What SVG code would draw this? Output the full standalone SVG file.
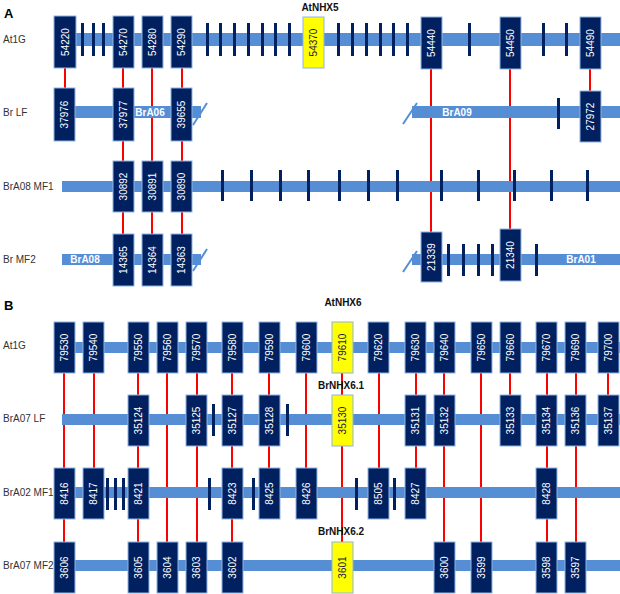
<svg xmlns="http://www.w3.org/2000/svg" width="620" height="594" viewBox="0 0 620 594">
<style>
text{font-family:"Liberation Sans",Arial,sans-serif}
.bar{fill:#558ed5}
.box{fill:#002060;stroke:#8eb4e3;stroke-width:1}
.ybox{fill:#ffff00;stroke:#8eb4e3;stroke-width:1}
.tk{fill:#002060}
.bt{fill:#fff;font-size:10px;text-anchor:middle;dominant-baseline:central}
.yt{fill:#1a1a40;font-size:10px;text-anchor:middle;dominant-baseline:central}
.rl{fill:#333;font-size:10px}
.pl{fill:#000;font-size:13px;font-weight:bold}
.gl{fill:#111;font-size:10px;font-weight:bold;text-anchor:middle}
.cl{fill:#fff;font-size:10px;font-weight:bold;text-anchor:middle;dominant-baseline:central}
.red{stroke:#ff0000;stroke-width:2;fill:none}
.sl{stroke:#558ed5;stroke-width:2}
</style>
<rect width="620" height="594" fill="#fff"/>

<!-- connectors -->
<g id="connectors" class="red">
<line x1="65" y1="67" x2="65" y2="88"/>
<line x1="123" y1="67" x2="123" y2="88"/>
<line x1="152" y1="67" x2="152" y2="161"/>
<line x1="182" y1="67" x2="182" y2="88"/>
<line x1="590" y1="68" x2="590" y2="91"/>
<line x1="431" y1="68" x2="431" y2="232"/>
<line x1="510" y1="68" x2="510" y2="229"/>
<line x1="123" y1="141" x2="123" y2="161"/>
<line x1="182" y1="141" x2="182" y2="161"/>
<line x1="123" y1="212" x2="123" y2="234"/>
<line x1="152" y1="212" x2="152" y2="234"/>
<line x1="182" y1="212" x2="182" y2="234"/>

<line x1="64" y1="373" x2="64" y2="468"/>
<line x1="64" y1="519" x2="64" y2="542"/>
<line x1="94" y1="373" x2="94" y2="468"/>
<line x1="138" y1="373" x2="138" y2="395"/>
<line x1="138" y1="446" x2="138" y2="468"/>
<line x1="138" y1="519" x2="138" y2="542"/>
<line x1="167" y1="373" x2="167" y2="542"/>
<line x1="197" y1="373" x2="197" y2="395"/>
<line x1="197" y1="446" x2="197" y2="542"/>
<line x1="232" y1="373" x2="232" y2="395"/>
<line x1="232" y1="446" x2="232" y2="468"/>
<line x1="232" y1="519" x2="232" y2="542"/>
<line x1="269" y1="373" x2="269" y2="395"/>
<line x1="269" y1="446" x2="269" y2="468"/>
<line x1="306" y1="373" x2="306" y2="468"/>
<line x1="342" y1="373" x2="342" y2="395"/>
<line x1="342" y1="446" x2="342" y2="542"/>
<line x1="379" y1="373" x2="379" y2="468"/>
<line x1="416" y1="373" x2="416" y2="395"/>
<line x1="416" y1="446" x2="416" y2="468"/>
<line x1="444" y1="373" x2="444" y2="395"/>
<line x1="444" y1="446" x2="444" y2="542"/>
<line x1="481" y1="373" x2="481" y2="542"/>
<line x1="510" y1="373" x2="510" y2="395"/>
<line x1="547" y1="373" x2="547" y2="395"/>
<line x1="547" y1="446" x2="547" y2="468"/>
<line x1="547" y1="519" x2="547" y2="542"/>
<line x1="576" y1="373" x2="576" y2="395"/>
<line x1="576" y1="446" x2="576" y2="542"/>
<line x1="608" y1="373" x2="608" y2="395"/>
</g>

<!-- Panel labels -->
<text class="pl" x="4" y="18">A</text>
<text class="pl" x="4" y="310">B</text>
<text class="gl" x="320" y="11">AtNHX5</text>
<text class="gl" x="343" y="306">AtNHX6</text>
<text class="gl" x="341" y="389">BrNHX6.1</text>
<text class="gl" x="341" y="535">BrNHX6.2</text>

<!-- Row labels -->
<text class="rl" x="3" y="43">At1G</text>
<text class="rl" x="3" y="116">Br LF</text>
<text class="rl" x="3" y="190">BrA08 MF1</text>
<text class="rl" x="3" y="263">Br MF2</text>
<text class="rl" x="3" y="349">At1G</text>
<text class="rl" x="3" y="422">BrA07 LF</text>
<text class="rl" x="3" y="496">BrA02 MF1</text>
<text class="rl" x="3" y="569">BrA07 MF2</text>

<!-- Panel A, At1G -->
<g id="A_At1G">
<rect class="bar" x="54" y="33" width="566" height="13"/>
<g class="tk">
<rect x="81" y="23" width="3" height="33"/><rect x="92" y="23" width="3" height="33"/><rect x="102" y="23" width="3" height="33"/>
<rect x="206" y="23" width="3" height="33"/><rect x="219" y="23" width="3" height="33"/><rect x="233" y="23" width="3" height="33"/><rect x="247" y="23" width="3" height="33"/><rect x="261" y="23" width="3" height="33"/><rect x="274" y="23" width="3" height="33"/><rect x="288" y="23" width="3" height="33"/>
<rect x="337" y="23" width="3" height="33"/><rect x="351" y="23" width="3" height="33"/><rect x="365" y="23" width="3" height="33"/><rect x="379" y="23" width="3" height="33"/><rect x="392" y="23" width="3" height="33"/><rect x="406" y="23" width="3" height="33"/>
<rect x="468" y="23" width="3" height="33"/><rect x="542" y="23" width="3" height="33"/><rect x="565" y="23" width="3" height="33"/>
</g>
</g>
<g id="n54220"><rect class="box" x="54" y="16" width="22" height="52"/><text class="bt" transform="translate(65,42) rotate(-90)">54220</text></g>
<g id="n54270"><rect class="box" x="113" y="16" width="21" height="52"/><text class="bt" transform="translate(123.5,42) rotate(-90)">54270</text></g>
<g id="n54280"><rect class="box" x="142" y="16" width="21" height="52"/><text class="bt" transform="translate(152.5,42) rotate(-90)">54280</text></g>
<g id="n54290"><rect class="box" x="171" y="16" width="21" height="52"/><text class="bt" transform="translate(181.5,42) rotate(-90)">54290</text></g>
<g id="n54370"><rect class="ybox" x="303" y="17" width="21" height="51"/><text class="yt" transform="translate(313.5,42.5) rotate(-90)">54370</text></g>
<g id="n54440"><rect class="box" x="421" y="17" width="21" height="52"/><text class="bt" transform="translate(431.5,43) rotate(-90)">54440</text></g>
<g id="n54450"><rect class="box" x="500" y="17" width="21" height="52"/><text class="bt" transform="translate(510.5,43) rotate(-90)">54450</text></g>
<g id="n54490"><rect class="box" x="580" y="17" width="21" height="52"/><text class="bt" transform="translate(590.5,43) rotate(-90)">54490</text></g>

<!-- Panel A, Br LF -->
<g id="A_BrLF">
<rect class="bar" x="54" y="106" width="147" height="12"/>
<line class="sl" x1="193" y1="125" x2="207" y2="103"/>
<text class="cl" x="150" y="112">BrA06</text>
<rect class="bar" x="412" y="106" width="208" height="12"/>
<line class="sl" x1="403" y1="124" x2="417" y2="103"/>
<text class="cl" x="457" y="112">BrA09</text>
<rect class="tk" x="557" y="98" width="3" height="31"/>
</g>
<g id="n37976"><rect class="box" x="54" y="88" width="21" height="53"/><text class="bt" transform="translate(64.5,114.5) rotate(-90)">37976</text></g>
<g id="n37977"><rect class="box" x="113" y="88" width="21" height="53"/><text class="bt" transform="translate(123.5,114.5) rotate(-90)">37977</text></g>
<g id="n39655"><rect class="box" x="171" y="88" width="21" height="53"/><text class="bt" transform="translate(181.5,114.5) rotate(-90)">39655</text></g>
<g id="n27972"><rect class="box" x="580" y="91" width="21" height="51"/><text class="bt" transform="translate(590.5,116.5) rotate(-90)">27972</text></g>

<!-- Panel A, BrA08 MF1 -->
<g id="A_MF1">
<rect class="bar" x="62" y="181" width="558" height="11"/>
<g class="tk">
<rect x="221" y="170" width="3" height="31"/><rect x="250" y="170" width="3" height="31"/><rect x="279" y="170" width="3" height="31"/><rect x="307" y="170" width="3" height="31"/><rect x="338" y="170" width="3" height="31"/><rect x="367" y="170" width="3" height="31"/><rect x="396" y="170" width="3" height="31"/><rect x="440" y="170" width="3" height="31"/><rect x="477" y="170" width="3" height="31"/><rect x="513" y="170" width="3" height="31"/><rect x="550" y="170" width="3" height="31"/><rect x="586" y="170" width="3" height="31"/>
</g>
</g>
<g id="n30892"><rect class="box" x="113" y="161" width="21" height="51"/><text class="bt" transform="translate(123.5,186.5) rotate(-90)">30892</text></g>
<g id="n30891"><rect class="box" x="142" y="161" width="21" height="51"/><text class="bt" transform="translate(152.5,186.5) rotate(-90)">30891</text></g>
<g id="n30890"><rect class="box" x="171" y="161" width="21" height="51"/><text class="bt" transform="translate(181.5,186.5) rotate(-90)">30890</text></g>

<!-- Panel A, Br MF2 -->
<g id="A_MF2">
<rect class="bar" x="62" y="254" width="139" height="11"/>
<line class="sl" x1="193" y1="271" x2="207" y2="249"/>
<text class="cl" x="85" y="259.5">BrA08</text>
<rect class="bar" x="412" y="254" width="208" height="11"/>
<line class="sl" x1="403" y1="272" x2="417" y2="251"/>
<text class="cl" x="581" y="259.5">BrA01</text>
<g class="tk">
<rect x="447" y="244" width="3" height="32"/><rect x="462" y="244" width="3" height="32"/><rect x="477" y="244" width="3" height="32"/><rect x="491" y="244" width="3" height="32"/><rect x="535" y="244" width="3" height="32"/>
</g>
</g>
<g id="n14365"><rect class="box" x="113" y="234" width="21" height="52"/><text class="bt" transform="translate(123.5,260) rotate(-90)">14365</text></g>
<g id="n14364"><rect class="box" x="142" y="234" width="21" height="52"/><text class="bt" transform="translate(152.5,260) rotate(-90)">14364</text></g>
<g id="n14363"><rect class="box" x="171" y="234" width="21" height="52"/><text class="bt" transform="translate(181.5,260) rotate(-90)">14363</text></g>
<g id="n21339"><rect class="box" x="421" y="232" width="21" height="50"/><text class="bt" transform="translate(431.5,257) rotate(-90)">21339</text></g>
<g id="n21340"><rect class="box" x="500" y="229" width="21" height="52"/><text class="bt" transform="translate(510.5,255) rotate(-90)">21340</text></g>

<!-- Panel B, At1G -->
<g id="B_At1G"><rect class="bar" x="62" y="342" width="558" height="11"/></g>
<g id="n79530"><rect class="box" x="54" y="322" width="21" height="51"/><text class="bt" transform="translate(64.5,347.5) rotate(-90)">79530</text></g>
<g id="n79540"><rect class="box" x="83" y="322" width="21" height="51"/><text class="bt" transform="translate(93.5,347.5) rotate(-90)">79540</text></g>
<g id="n79550"><rect class="box" x="128" y="322" width="21" height="51"/><text class="bt" transform="translate(138.5,347.5) rotate(-90)">79550</text></g>
<g id="n79560"><rect class="box" x="157" y="322" width="21" height="51"/><text class="bt" transform="translate(167.5,347.5) rotate(-90)">79560</text></g>
<g id="n79570"><rect class="box" x="186" y="322" width="21" height="51"/><text class="bt" transform="translate(196.5,347.5) rotate(-90)">79570</text></g>
<g id="n79580"><rect class="box" x="222" y="322" width="21" height="51"/><text class="bt" transform="translate(232.5,347.5) rotate(-90)">79580</text></g>
<g id="n79590"><rect class="box" x="259" y="322" width="21" height="51"/><text class="bt" transform="translate(269.5,347.5) rotate(-90)">79590</text></g>
<g id="n79600"><rect class="box" x="296" y="322" width="21" height="51"/><text class="bt" transform="translate(306.5,347.5) rotate(-90)">79600</text></g>
<g id="n79610"><rect class="ybox" x="332" y="322" width="21" height="51"/><text class="yt" transform="translate(342.5,347.5) rotate(-90)">79610</text></g>
<g id="n79620"><rect class="box" x="368" y="322" width="21" height="51"/><text class="bt" transform="translate(378.5,347.5) rotate(-90)">79620</text></g>
<g id="n79630"><rect class="box" x="405" y="322" width="21" height="51"/><text class="bt" transform="translate(415.5,347.5) rotate(-90)">79630</text></g>
<g id="n79640"><rect class="box" x="434" y="322" width="21" height="51"/><text class="bt" transform="translate(444.5,347.5) rotate(-90)">79640</text></g>
<g id="n79650"><rect class="box" x="471" y="322" width="21" height="51"/><text class="bt" transform="translate(481.5,347.5) rotate(-90)">79650</text></g>
<g id="n79660"><rect class="box" x="500" y="322" width="21" height="51"/><text class="bt" transform="translate(510.5,347.5) rotate(-90)">79660</text></g>
<g id="n79670"><rect class="box" x="536" y="322" width="21" height="51"/><text class="bt" transform="translate(546.5,347.5) rotate(-90)">79670</text></g>
<g id="n79690"><rect class="box" x="565" y="322" width="21" height="51"/><text class="bt" transform="translate(575.5,347.5) rotate(-90)">79690</text></g>
<g id="n79700"><rect class="box" x="598" y="322" width="21" height="51"/><text class="bt" transform="translate(608.5,347.5) rotate(-90)">79700</text></g>

<!-- Panel B, BrA07 LF -->
<g id="B_LF">
<rect class="bar" x="62" y="414" width="558" height="11"/>
<g class="tk"><rect x="212" y="404" width="3" height="32"/><rect x="286" y="404" width="3" height="32"/></g>
</g>
<g id="n35124"><rect class="box" x="128" y="395" width="21" height="51"/><text class="bt" transform="translate(138.5,420.5) rotate(-90)">35124</text></g>
<g id="n35125"><rect class="box" x="186" y="395" width="21" height="51"/><text class="bt" transform="translate(196.5,420.5) rotate(-90)">35125</text></g>
<g id="n35127"><rect class="box" x="222" y="395" width="21" height="51"/><text class="bt" transform="translate(232.5,420.5) rotate(-90)">35127</text></g>
<g id="n35128"><rect class="box" x="259" y="395" width="21" height="51"/><text class="bt" transform="translate(269.5,420.5) rotate(-90)">35128</text></g>
<g id="n35130"><rect class="ybox" x="332" y="395" width="21" height="51"/><text class="yt" transform="translate(342.5,420.5) rotate(-90)">35130</text></g>
<g id="n35131"><rect class="box" x="405" y="395" width="21" height="51"/><text class="bt" transform="translate(415.5,420.5) rotate(-90)">35131</text></g>
<g id="n35132"><rect class="box" x="434" y="395" width="21" height="51"/><text class="bt" transform="translate(444.5,420.5) rotate(-90)">35132</text></g>
<g id="n35133"><rect class="box" x="500" y="395" width="21" height="51"/><text class="bt" transform="translate(510.5,420.5) rotate(-90)">35133</text></g>
<g id="n35134"><rect class="box" x="536" y="395" width="21" height="51"/><text class="bt" transform="translate(546.5,420.5) rotate(-90)">35134</text></g>
<g id="n35136"><rect class="box" x="565" y="395" width="21" height="51"/><text class="bt" transform="translate(575.5,420.5) rotate(-90)">35136</text></g>
<g id="n35137"><rect class="box" x="598" y="395" width="21" height="51"/><text class="bt" transform="translate(608.5,420.5) rotate(-90)">35137</text></g>

<!-- Panel B, BrA02 MF1 -->
<g id="B_MF1">
<rect class="bar" x="62" y="487" width="558" height="11"/>
<g class="tk">
<rect x="106" y="478" width="3" height="32"/><rect x="114" y="478" width="3" height="32"/><rect x="122" y="478" width="3" height="32"/><rect x="208" y="478" width="3" height="32"/><rect x="252" y="478" width="3" height="32"/><rect x="355" y="478" width="3" height="32"/><rect x="393" y="478" width="3" height="32"/>
</g>
</g>
<g id="n8416"><rect class="box" x="54" y="468" width="21" height="51"/><text class="bt" transform="translate(64.5,493.5) rotate(-90)">8416</text></g>
<g id="n8417"><rect class="box" x="83" y="468" width="21" height="51"/><text class="bt" transform="translate(93.5,493.5) rotate(-90)">8417</text></g>
<g id="n8421"><rect class="box" x="128" y="468" width="21" height="51"/><text class="bt" transform="translate(138.5,493.5) rotate(-90)">8421</text></g>
<g id="n8423"><rect class="box" x="222" y="468" width="21" height="51"/><text class="bt" transform="translate(232.5,493.5) rotate(-90)">8423</text></g>
<g id="n8425"><rect class="box" x="259" y="468" width="21" height="51"/><text class="bt" transform="translate(269.5,493.5) rotate(-90)">8425</text></g>
<g id="n8426"><rect class="box" x="296" y="468" width="21" height="51"/><text class="bt" transform="translate(306.5,493.5) rotate(-90)">8426</text></g>
<g id="n8505"><rect class="box" x="368" y="468" width="21" height="51"/><text class="bt" transform="translate(378.5,493.5) rotate(-90)">8505</text></g>
<g id="n8427"><rect class="box" x="405" y="468" width="21" height="51"/><text class="bt" transform="translate(415.5,493.5) rotate(-90)">8427</text></g>
<g id="n8428"><rect class="box" x="536" y="468" width="21" height="51"/><text class="bt" transform="translate(546.5,493.5) rotate(-90)">8428</text></g>

<!-- Panel B, BrA07 MF2 -->
<g id="B_MF2"><rect class="bar" x="62" y="560" width="558" height="11"/></g>
<g id="n3606"><rect class="box" x="54" y="542" width="21" height="51"/><text class="bt" transform="translate(64.5,567.5) rotate(-90)">3606</text></g>
<g id="n3605"><rect class="box" x="128" y="542" width="21" height="51"/><text class="bt" transform="translate(138.5,567.5) rotate(-90)">3605</text></g>
<g id="n3604"><rect class="box" x="157" y="542" width="21" height="51"/><text class="bt" transform="translate(167.5,567.5) rotate(-90)">3604</text></g>
<g id="n3603"><rect class="box" x="186" y="542" width="21" height="51"/><text class="bt" transform="translate(196.5,567.5) rotate(-90)">3603</text></g>
<g id="n3602"><rect class="box" x="222" y="542" width="21" height="51"/><text class="bt" transform="translate(232.5,567.5) rotate(-90)">3602</text></g>
<g id="n3601"><rect class="ybox" x="332" y="542" width="21" height="51"/><text class="yt" transform="translate(342.5,567.5) rotate(-90)">3601</text></g>
<g id="n3600"><rect class="box" x="434" y="542" width="21" height="51"/><text class="bt" transform="translate(444.5,567.5) rotate(-90)">3600</text></g>
<g id="n3599"><rect class="box" x="471" y="542" width="21" height="51"/><text class="bt" transform="translate(481.5,567.5) rotate(-90)">3599</text></g>
<g id="n3598"><rect class="box" x="536" y="542" width="21" height="51"/><text class="bt" transform="translate(546.5,567.5) rotate(-90)">3598</text></g>
<g id="n3597"><rect class="box" x="565" y="542" width="21" height="51"/><text class="bt" transform="translate(575.5,567.5) rotate(-90)">3597</text></g>
</svg>
